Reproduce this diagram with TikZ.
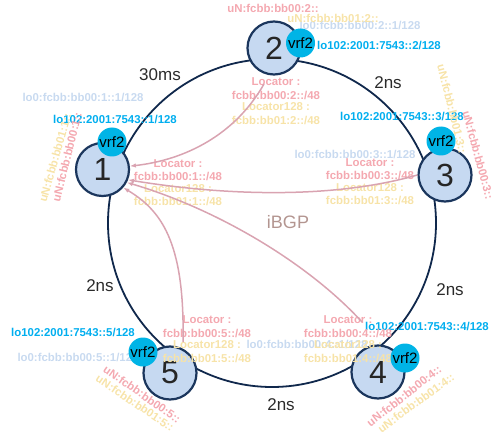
\documentclass[tikz,border=0pt]{standalone}
\usepackage{fontspec}
\setmainfont{Liberation Sans}
\usetikzlibrary{arrows.meta, positioning}
\definecolor{NodeFill}{HTML}{C6D9F1}
\definecolor{NodeLine}{HTML}{1B365D}
\definecolor{RingNavy}{HTML}{10284C}
\definecolor{VrfCyan}{HTML}{00B4E6}
\definecolor{LoCyan}{HTML}{00AEEF}
\definecolor{LoPale}{HTML}{C8DAF0}
\definecolor{LocPink}{HTML}{F4A8B0}
\definecolor{LocYellow}{HTML}{F7E3A8}
\definecolor{RouteMauve}{HTML}{D9A3B1}
\definecolor{BgpTaupe}{HTML}{B39590}
\definecolor{LinkGray}{HTML}{2B2B2B}

\begin{document}
\begin{tikzpicture}[
    x=1pt, y=-1pt,
    router/.style={circle, draw=NodeLine, line width=2.2pt, fill=NodeFill, minimum size=53pt,
                   inner sep=0pt, font=\fontsize{32}{32}\selectfont, text=black!85},
    vrf/.style={circle, fill=VrfCyan, minimum size=29pt, inner sep=0pt,
                font=\fontsize{15}{15}\selectfont},
    addr/.style={inner sep=0pt, font=\fontsize{11.4}{13.6}\selectfont\bfseries, align=center},
    lobig/.style={addr, text=LoCyan},
    losmall/.style={addr, text=LoPale},
    pinklbl/.style={addr, text=LocPink},
    yellowlbl/.style={addr, text=LocYellow},
    linklbl/.style={font=\fontsize{17}{17}\selectfont, text=LinkGray},
    route/.style={draw=RouteMauve, line width=1.5pt, -{Latex[length=6pt,width=4.5pt]}}
]
    \useasboundingbox (0,0) rectangle (498,433);
    \draw[RingNavy, line width=1.8pt] (272,223) circle (164pt);

    \node[router] (r1) at (102.5,169.5) {1};
    \node[router] (r2) at (274,48) {2};
    \node[router] (r3) at (445,175) {3};
    \node[router] (r4) at (378,372) {4};
    \node[router] (r5) at (170,373) {5};

    \node[linklbl] (lk12) at (160,75) {30ms};
    \node[linklbl] (lk23) at (388,83) {2ns};
    \node[linklbl] (lk34) at (450,290) {2ns};
    \node[linklbl] (lk45) at (281,405) {2ns};
    \node[linklbl] (lk51) at (100,286) {2ns};
    \node[font=\fontsize{18}{18}\selectfont, text=BgpTaupe] (ibgp) at (288,222) {iBGP};

    \node[losmall] (lo0a) at (83,97) {lo0:fcbb:bb00:1::1/128};
    \node[losmall] (lo0b) at (360,25) {lo0:fcbb:bb00:2::1/128};
    \node[losmall] (lo0c) at (355,154) {lo0:fcbb:bb00:3::1/128};
    \node[losmall] (lo0d) at (307,344) {lo0:fcbb:bb00:4::1/128};
    \node[losmall] (lo0e) at (78,357) {lo0:fcbb:bb00:5::1/128};

    \node[lobig] (loa) at (115,119) {lo102:2001:7543::1/128};
    \node[lobig] (lob) at (379,45) {lo102:2001:7543::2/128};
    \node[lobig] (loc) at (402,116) {lo102:2001:7543::3/128};
    \node[lobig] (lod) at (427,326) {lo102:2001:7543::4/128};
    \node[lobig] (loe) at (73,332) {lo102:2001:7543::5/128};

    \node[yellowlbl, rotate=74] (una1) at (55,158) {uN:fcbb:bb01:1::};
    \node[pinklbl, rotate=76] (unb1) at (67,157) {uN:fcbb:bb00:1::};
    \node[pinklbl] (unb2) at (273,8) {uN:fcbb:bb00:2::};
    \node[yellowlbl] (una2) at (333,18) {uN:fcbb:bb01:2::};
    \node[yellowlbl, rotate=-76] (una3) at (452,109) {uN:fcbb:bb01:3::};
    \node[pinklbl, rotate=-75] (unb3) at (478,155) {uN:fcbb:bb00:3::};
    \node[pinklbl, rotate=38] (unb4) at (404,396) {uN:fcbb:bb00:4::};
    \node[yellowlbl, rotate=36] (una4) at (416,403) {uN:fcbb:bb01:4::};
    \node[pinklbl, rotate=-35] (unb5) at (142,394) {uN:fcbb:bb00:5::};
    \node[yellowlbl, rotate=-34] (una5) at (135,403) {uN:fcbb:bb01:5::};

    \node[pinklbl] (loc1) at (178,170) {Locator :\\fcbb:bb00:1::/48};
    \node[yellowlbl, below=3pt of loc1] (loc1b) {Locator128 :\\fcbb:bb01:1::/48};
    \node[pinklbl] (loc2) at (276,88.5) {Locator :\\fcbb:bb00:2::/48};
    \node[yellowlbl, below=3pt of loc2] (loc2b) {Locator128 :\\fcbb:bb01:2::/48};
    \node[pinklbl] (loc3) at (370,169) {Locator :\\fcbb:bb00:3::/48};
    \node[yellowlbl, below=3pt of loc3] (loc3b) {Locator128 :\\fcbb:bb01:3::/48};
    \node[pinklbl] (loc4) at (348,326.5) {Locator :\\fcbb:bb00:4::/48};
    \node[yellowlbl, below=3pt of loc4] (loc4b) {Locator128 :\\fcbb:bb01:4::/48};
    \node[pinklbl] (loc5) at (207,326.5) {Locator :\\fcbb:bb00:5::/48};
    \node[yellowlbl, below=3pt of loc5] (loc5b) {Locator128 :\\fcbb:bb01:5::/48};

    \coordinate (s2) at (264,84);
    \coordinate (s4) at (362,322);
    \coordinate (s5) at (183,342);
    \draw[route] (s2) .. controls (235,135) and (185,160) .. (r1.7);
    \draw[route] (r3.west) .. controls (330,200) and (220,195) .. (r1.-22);
    \draw[route] (s4) .. controls (310,265) and (220,210) .. (r1.-28);
    \draw[route] (s5) .. controls (185,240) and (160,210) .. (r1.-41);

    \node[vrf] (v1) at (112,142) {vrf2};
    \node[vrf] (v2) at (300.5,43) {vrf2};
    \node[vrf] (v3) at (441,141) {vrf2};
    \node[vrf] (v4) at (405,358) {vrf2};
    \node[vrf] (v5) at (143,352) {vrf2};
\end{tikzpicture}
\end{document}
